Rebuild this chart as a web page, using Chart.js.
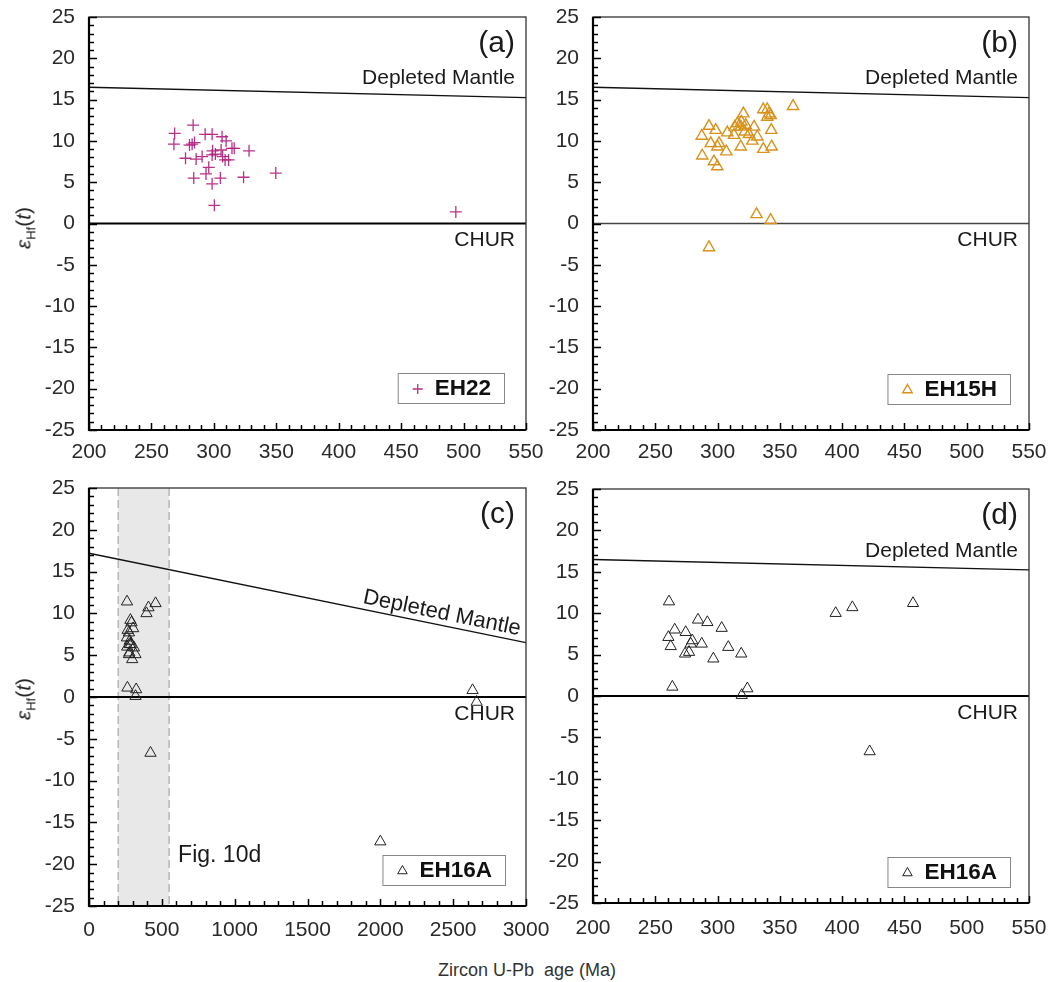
<!DOCTYPE html>
<html>
<head>
<meta charset="utf-8">
<script src="https://cdn.jsdelivr.net/npm/chart.js@4.4.1/dist/chart.umd.min.js"></script>
<style>
  body { margin: 0; background: #fff; width: 1051px; height: 982px; position: relative; overflow: hidden;
         font-family: 'Liberation Sans', Arial, sans-serif; color: #222; }
  canvas { position: absolute; }
  .ytit { position: absolute; font-size: 21px; white-space: nowrap; transform: translate(-50%, -50%) rotate(-90deg); color: #222; }
  .ytit sub { font-size: 13px; }
  .xtit { position: absolute; left: 527px; top: 970px; font-size: 18px; white-space: pre; transform: translate(-50%, -50%); color: #333; }
</style>
</head>
<body>
<canvas id="cA" width="545" height="470" style="left:0;top:0"></canvas>
<canvas id="cB" width="545" height="470" style="left:504px;top:0"></canvas>
<canvas id="cC" width="565" height="470" style="left:0;top:471px"></canvas>
<canvas id="cD" width="545" height="470" style="left:504px;top:471px"></canvas>
<div class="ytit" style="left:25px;top:228px"><i>ε</i><sub>Hf</sub>(<i>t</i>)</div>
<div class="ytit" style="left:25px;top:699px"><i>ε</i><sub>Hf</sub>(<i>t</i>)</div>
<div class="xtit">Zircon U-Pb  age (Ma)</div>
<script>
// sample EH22 (a)
const ageEH22 = [268.6, 268, 283.4, 293, 298.6, 306.6, 309.8, 280.5, 284.5, 282.6, 277.3, 285.8, 290.6, 299, 301.2,
  298.6, 305.8, 307, 311.8, 309, 314.5, 316.3, 328.2, 295.9, 293.7, 283.9, 298.6, 305.2, 323.8, 349.6, 300.4, 493.8];
const epsEH22 = [10.9, 9.6, 11.9, 10.8, 10.8, 10.5, 10.0, 9.5, 9.8, 9.6, 7.9, 7.8, 8.1, 8.8, 8.4,
  8.3, 8.9, 8.1, 7.7, 7.7, 9.1, 9.1, 8.8, 6.8, 6.0, 5.5, 4.8, 5.5, 5.6, 6.1, 2.2, 1.4];

// sample EH15H (b)
const ageEH15H = [360.6, 336.7, 339.9, 341.3, 339.9, 342.6, 320.7, 315.9, 319.1, 322.6, 313.8, 318.6, 329.3, 343.1,
  293.1, 298.5, 307.8, 287.3, 313.2, 321.8, 325.2, 331.9, 294.5, 301.2, 327.9, 318.6, 343.4, 336.7, 307.0, 299.8,
  287.7, 297.1, 299.8, 331.3, 342.6, 293.1];
const epsEH15H = [14.2, 13.8, 13.8, 13.3, 12.9, 13.1, 13.3, 12.1, 12.3, 11.9, 11.7, 11.7, 11.7, 11.3,
  11.8, 11.3, 11.0, 10.6, 10.7, 11.1, 10.8, 10.5, 9.7, 9.7, 10.0, 9.3, 9.3, 9.0, 8.7, 9.3,
  8.2, 7.5, 6.9, 1.1, 0.4, -2.9];

// sample EH16A (c, d)
const ageEH16A = [261, 265.6, 274.4, 260.5, 262.4, 279.7, 277.1, 273.9, 278.4, 284.3, 291.8, 303.3, 287.3, 308.6,
  319.0, 296.6, 263.7, 323.9, 319.4, 394.8, 408.2, 456.9, 422.1, 2000, 2633, 2661];
const epsEH16A = [11.4, 8.0, 7.7, 7.1, 6.0, 6.7, 5.3, 5.1, 6.3, 9.2, 8.9, 8.2, 6.3, 5.9,
  5.1, 4.5, 1.1, 0.9, 0.1, 10.0, 10.7, 11.2, -6.7, -17.3, 0.8, -0.6];

// reference lines
const dmAge = [0, 3000];
const dmEps = [17.2, 6.5];
const churEps = 0;
const band10d = [200, 550];

// tick labels
const yTicks = [-25, -20, -15, -10, -5, 0, 5, 10, 15, 20, 25];
const xTicksYoung = [200, 250, 300, 350, 400, 450, 500, 550];
const xTicksAll = [0, 500, 1000, 1500, 2000, 2500, 3000];

const FONT = "'Liberation Sans', Arial, sans-serif";
const toPts = (xs, ys) => xs.map((v, i) => ({ x: v, y: ys[i] }));
const dmAt = a => dmEps[0] + (dmEps[1] - dmEps[0]) * (a - dmAge[0]) / (dmAge[1] - dmAge[0]);

const deco = {
  id: 'deco',
  beforeDatasetsDraw(chart, args, o) {
    if (!o.band) return;
    const { ctx, chartArea: a, scales: { x } } = chart;
    const x1 = x.getPixelForValue(o.band[0]), x2 = x.getPixelForValue(o.band[1]);
    ctx.save();
    ctx.fillStyle = '#e8e8e8';
    ctx.fillRect(x1, a.top, x2 - x1, a.bottom - a.top);
    ctx.strokeStyle = '#999'; ctx.lineWidth = 1; ctx.setLineDash([8, 4]);
    ctx.beginPath();
    ctx.moveTo(x1, a.top); ctx.lineTo(x1, a.bottom);
    ctx.moveTo(x2, a.top); ctx.lineTo(x2, a.bottom);
    ctx.stroke();
    ctx.restore();
  },
  afterDatasetsDraw(chart, args, o) {
    const { ctx, chartArea: a, scales: { x, y } } = chart;
    ctx.save();
    // frame
    ctx.strokeStyle = '#333'; ctx.lineWidth = 1.3;
    ctx.strokeRect(a.left, a.top, a.right - a.left, a.bottom - a.top);
    ctx.strokeStyle = '#000'; ctx.lineWidth = 2.2;
    ctx.beginPath();
    ctx.moveTo(a.left, a.top); ctx.lineTo(a.left, a.bottom); ctx.lineTo(a.right, a.bottom);
    ctx.stroke();
    // inward ticks
    ctx.lineWidth = 1.5;
    ctx.beginPath();
    for (let v = y.min; v <= y.max; v += 1) {
      const py = Math.round(y.getPixelForValue(v)) + 0.5;
      const len = v % 5 === 0 ? 8 : 5;
      ctx.moveTo(a.left, py); ctx.lineTo(a.left + len, py);
    }
    for (let v = x.min; v <= x.max; v += o.xMinor) {
      const px = Math.round(x.getPixelForValue(v)) + 0.5;
      const len = v % o.xMajor === 0 ? 7 : 5;
      ctx.moveTo(px, a.bottom); ctx.lineTo(px, a.bottom - len);
    }
    ctx.stroke();

    ctx.fillStyle = '#1a1a1a';
    // panel letter
    ctx.font = '30px ' + FONT;
    ctx.textAlign = 'right'; ctx.textBaseline = 'middle';
    ctx.fillText(o.letter, a.right - 11, a.top + 27);
    // Depleted Mantle label
    ctx.font = '21px ' + FONT;
    if (o.dmRotated) {
      const xr = a.right - 8;
      const ar = x.getValueForPixel(xr);
      const p0 = { x: x.getPixelForValue(dmAge[0]), y: y.getPixelForValue(dmEps[0]) };
      const p1 = { x: x.getPixelForValue(dmAge[1]), y: y.getPixelForValue(dmEps[1]) };
      const ang = Math.atan2(p1.y - p0.y, p1.x - p0.x);
      ctx.translate(xr, y.getPixelForValue(dmAt(ar)));
      ctx.rotate(ang);
      ctx.font = '22px ' + FONT;
      ctx.textAlign = 'right'; ctx.textBaseline = 'alphabetic';
      ctx.fillText('Depleted Mantle', 0, -6);
      ctx.setTransform(1, 0, 0, 1, 0, 0);
      ctx.font = '21px ' + FONT;
    } else {
      ctx.textAlign = 'right'; ctx.textBaseline = 'middle';
      ctx.fillText('Depleted Mantle', a.right - 11, y.getPixelForValue(dmAt(x.max)) - 19);
    }
    // CHUR label
    ctx.textAlign = 'right'; ctx.textBaseline = 'middle';
    ctx.fillText('CHUR', a.right - 11, y.getPixelForValue(churEps) + 17);
    // Fig. 10d label
    if (o.band) {
      ctx.font = '23px ' + FONT;
      ctx.textAlign = 'left';
      ctx.fillText('Fig. 10d', x.getPixelForValue(o.band[1]) + 9, y.getPixelForValue(-19));
    }
    // legend box
    const ds = chart.data.datasets[0];
    ctx.font = 'bold 22.5px ' + FONT;
    const tw = ctx.measureText(ds.label).width;
    const bw = 38 + tw + 12, bh = 30;
    const bx = a.right - o.legRight - bw, by = a.bottom - o.legBottom - bh;
    ctx.fillStyle = '#fff'; ctx.fillRect(bx, by, bw, bh);
    ctx.strokeStyle = '#888'; ctx.lineWidth = 1;
    ctx.strokeRect(bx + 0.5, by + 0.5, bw, bh);
    ctx.strokeStyle = ds.borderColor; ctx.lineWidth = ds.borderWidth;
    Chart.helpers.drawPoint(ctx, { pointStyle: ds.pointStyle, radius: ds.legendRadius, rotation: 0, borderWidth: ds.borderWidth },
      bx + 20, by + bh / 2 + 1);
    ctx.fillStyle = '#111';
    ctx.textAlign = 'left'; ctx.textBaseline = 'middle';
    ctx.fillText(ds.label, bx + 37, by + bh / 2 + 1);
    ctx.restore();
  }
};

function panel(id, p) {
  const cv = document.getElementById(id);
  const lines = [
    { data: toPts(dmAge, dmEps), showLine: true, pointRadius: 0, borderColor: '#111', borderWidth: 1.4, clip: 0 },
    { data: [{ x: p.xMin, y: churEps }, { x: p.xMax, y: churEps }], showLine: true, pointRadius: 0,
      borderColor: p.churColor, borderWidth: p.churWidth, clip: 0 }
  ];
  new Chart(cv, {
    type: 'scatter',
    data: {
      datasets: [{
        label: p.label,
        data: toPts(p.ages, p.eps),
        pointStyle: p.style,
        pointRadius: p.radius,
        legendRadius: p.radius - 1,
        borderColor: p.color,
        backgroundColor: 'rgba(0,0,0,0)',
        borderWidth: p.bw
      }, ...lines]
    },
    options: {
      responsive: false,
      animation: false,
      events: [],
      layout: { autoPadding: false, padding: { left: 0, top: p.area.t, right: cv.width - p.area.r, bottom: 0 } },
      plugins: {
        legend: { display: false },
        tooltip: { enabled: false },
        deco: { letter: p.letter, xMinor: p.xMinor, xMajor: p.xMajor, band: p.band, dmRotated: p.dmRotated,
                legRight: p.legRight, legBottom: p.legBottom }
      },
      scales: {
        x: {
          type: 'linear', min: p.xMin, max: p.xMax,
          grid: { display: false, drawTicks: false },
          border: { display: false },
          afterBuildTicks: s => { s.ticks = p.xTicks.map(v => ({ value: v })); },
          afterFit: s => { s.height = cv.height - p.area.b; s.paddingLeft = 0; s.paddingRight = 0; },
          ticks: { padding: p.xPad, color: '#2a2a2a', font: { family: FONT, size: 21 }, maxRotation: 0, autoSkip: false,
                   callback: v => String(v) }
        },
        y: {
          type: 'linear', min: -25, max: 25,
          grid: { display: false, drawTicks: false },
          border: { display: false },
          afterBuildTicks: s => { s.ticks = yTicks.map(v => ({ value: v })); },
          afterFit: s => { s.width = p.area.l; s.paddingTop = 0; s.paddingBottom = 0; },
          ticks: { padding: 14, color: '#2a2a2a', font: { family: FONT, size: 21 }, autoSkip: false,
                   callback: v => String(v) }
        }
      }
    },
    plugins: [deco]
  });
}

panel('cA', { label: 'EH22', ages: ageEH22, eps: epsEH22, style: 'cross', radius: 6, color: 'rgba(176,28,122,0.9)', bw: 1.3,
  xMin: 200, xMax: 550, xTicks: xTicksYoung, xMinor: 10, xMajor: 50, letter: '(a)',
  area: { l: 89, t: 17, r: 526, b: 430 }, xPad: 10, churColor: '#000', churWidth: 2, legRight: 22, legBottom: 27 });

panel('cB', { label: 'EH15H', ages: ageEH15H, eps: epsEH15H, style: 'triangle', radius: 6.5, color: '#d8921c', bw: 1.4,
  xMin: 200, xMax: 550, xTicks: xTicksYoung, xMinor: 10, xMajor: 50, letter: '(b)',
  area: { l: 89, t: 17, r: 525, b: 430 }, xPad: 10, churColor: '#444', churWidth: 1.3, legRight: 19, legBottom: 26 });

panel('cC', { label: 'EH16A', ages: ageEH16A, eps: epsEH16A, style: 'triangle', radius: 6.5, color: '#222', bw: 1,
  xMin: 0, xMax: 3000, xTicks: xTicksAll, xMinor: 100, xMajor: 500, letter: '(c)', band: band10d, dmRotated: true,
  area: { l: 89, t: 17, r: 526, b: 435 }, xPad: 12, churColor: '#000', churWidth: 2, legRight: 21, legBottom: 21 });

panel('cD', { label: 'EH16A', ages: ageEH16A, eps: epsEH16A, style: 'triangle', radius: 6.5, color: '#222', bw: 1,
  xMin: 200, xMax: 550, xTicks: xTicksYoung, xMinor: 10, xMajor: 50, letter: '(d)',
  area: { l: 89, t: 18, r: 525, b: 432 }, xPad: 13, churColor: '#000', churWidth: 2, legRight: 19, legBottom: 16 });
</script>
</body>
</html>
